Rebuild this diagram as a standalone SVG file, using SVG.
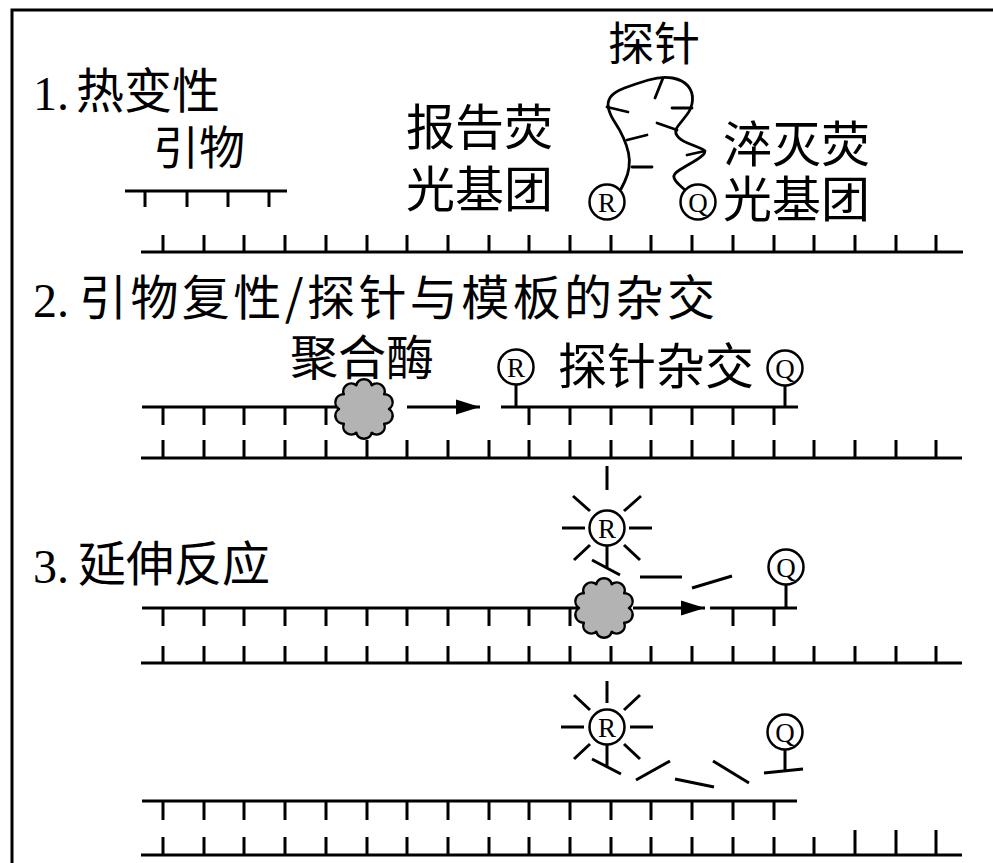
<svg xmlns="http://www.w3.org/2000/svg" xmlns:xlink="http://www.w3.org/1999/xlink" width="993" height="863" viewBox="0 0 993 863">
  <style>
    .s { stroke: #000; stroke-width: 3; fill: none; }
    .thin { stroke: #000; stroke-width: 2.8; fill: none; stroke-linecap: round; stroke-linejoin: round; }
    .cn { font-family: "Noto Sans CJK SC", sans-serif; fill: #000; }
    .num { font-family: "Liberation Serif", serif; fill: #000; }
    .ring { fill: #fff; stroke: #000; stroke-width: 2.5; }
    .mark { font-family: "Liberation Serif", serif; font-size: 27px; text-anchor: middle; fill: #000; }
    .enz { fill: #b3b3b3; stroke: #000; stroke-width: 2.5; stroke-linejoin: round; }
  </style>
  <defs>
    <!-- reporter dye (R) and quencher (Q) markers, centred on 0,0 -->
    <g id="rMark">
      <circle class="ring" cx="0" cy="0" r="17.5"/>
      <text class="mark" x="0" y="9.5">R</text>
    </g>
    <g id="qMark">
      <circle class="ring" cx="0" cy="0" r="17.5"/>
      <text class="mark" x="0" y="9.5" font-size="30">Q</text>
    </g>
    <!-- light rays round a freed reporter -->
    <path id="burst" class="s" d="M0,-46V-24 M-46,0H-23 M23,0H46 M-33,-32L-17,-17 M17,-17L33,-32 M-33,32L-17,17 M17,17L33,32"/>
    <!-- polymerase blob -->
    <path id="enzyme" class="enz" d="M25,0 A8,8 0 0 1 20.2,14.7 A8,8 0 0 1 7.7,23.8 A8,8 0 0 1 -7.7,23.8 A8,8 0 0 1 -20.2,14.7 A8,8 0 0 1 -25,0 A8,8 0 0 1 -20.2,-14.7 A8,8 0 0 1 -7.7,-23.8 A8,8 0 0 1 7.7,-23.8 A8,8 0 0 1 20.2,-14.7 A8,8 0 0 1 25,0 Z"/>
    <marker id="head" viewBox="0 0 24 16" refX="24" refY="8" markerWidth="24" markerHeight="16" markerUnits="userSpaceOnUse" orient="auto">
      <path d="M0,0.5 L24,8 L0,15.5 Z" fill="#000"/>
    </marker>
  </defs>

  <rect x="0" y="0" width="993" height="863" fill="#fff"/>

  <!-- outer frame (top and left edges) -->
  <g id="frame">
    <path class="s" d="M12,863 V10 H993"/>
  </g>

  <!-- ===== 1. denaturation ===== -->
  <g id="stage1-title">
    <text class="num" x="33" y="110" font-size="48">1.</text>
    <text class="cn" x="76" y="108" font-size="48">热变性</text>
  </g>
  <g id="primer1">
    <text class="cn" x="153" y="164" font-size="46">引物</text>
    <path class="s" d="M125,191H287 M145,191V207 M187,191V207 M228,191V207 M269,191V207"/>
  </g>
  <g id="template1">
    <path class="s" d="M141,252H963 M163,235V252 M204,235V252 M244,235V252 M285,235V252 M326,235V252 M367,235V252 M407,235V252 M448,235V252 M489,235V252 M529,235V252 M570,235V252 M611,235V252 M651,235V252 M692,235V252 M733,235V252 M774,235V252 M814,235V252 M855,235V252 M896,235V252 M936,235V252"/>
  </g>
  <g id="probe1">
    <text class="cn" x="608" y="60" font-size="46">探针</text>
    <path class="thin" d="M621,189 L624.5,182 Q628,175 629,167.5 Q630,160 628.5,153 Q627,146 623.5,138 Q620,130 615,122.5 Q610,115 608.5,108.5 Q607,102 610.5,97 Q614,92 624.5,88 Q635,84 648.5,80 Q662,76 672.5,78 Q683,80 688,86 Q693,92 692.5,100 Q692,108 687,114.5 Q682,121 678,126 Q674,131 677,135.5 Q680,140 687.5,143 Q695,146 701,148.5 Q707,151 703.5,154.5 Q700,158 693,162 Q686,166 679.5,170 Q673,174 674,177.5 Q675,181 680,185.5 L685,190"/>
    <path class="thin" d="M663,78L655,98 M607,107L628,112 M672,108L692,108 M657,123L677,130 M627,140L647,135 M687,155L705,151 M632,167L652,167"/>
    <use xlink:href="#rMark" x="607" y="202"/>
    <use xlink:href="#qMark" x="698" y="202"/>
  </g>
  <g id="reporter-label">
    <text class="cn" font-size="49"><tspan x="406" y="145">报告荧</tspan><tspan x="406" y="207">光基团</tspan></text>
  </g>
  <g id="quencher-label">
    <text class="cn" font-size="49"><tspan x="723" y="162">淬灭荧</tspan><tspan x="723" y="217">光基团</tspan></text>
  </g>

  <!-- ===== 2. annealing / probe hybridisation ===== -->
  <g id="stage2-title">
    <text class="num" x="33" y="317" font-size="48">2.</text>
    <text class="cn" x="79" y="315" font-size="48" textLength="636" lengthAdjust="spacing">引物复性/探针与模板的杂交</text>
  </g>
  <g id="primer2">
    <path class="s" d="M142,407H345 M163,407V425 M204,407V425 M244,407V425 M285,407V425 M326,407V425"/>
  </g>
  <g id="template2">
    <path class="s" d="M141,458H962 M163,440V458 M204,440V458 M244,440V458 M285,440V458 M326,440V458 M367,440V458 M407,440V458 M448,440V458 M489,440V458 M529,440V458 M570,440V458 M611,440V458 M651,440V458 M692,440V458 M733,440V458 M774,440V458 M814,440V458 M855,440V458 M896,440V458 M936,440V458"/>
  </g>
  <g id="polymerase2">
    <text class="cn" x="290" y="375" font-size="48">聚合酶</text>
    <use xlink:href="#enzyme" x="364" y="409"/>
  </g>
  <g id="probe2">
    <text class="cn" x="558" y="384" font-size="49">探针杂交</text>
    <path class="s" d="M501,407H798 M516,407V385 M785,407V385 M529,407V425 M570,407V425 M611,407V425 M651,407V425 M692,407V425 M733,407V425 M774,407V425"/>
    <use xlink:href="#rMark" x="516" y="367"/>
    <use xlink:href="#qMark" x="785" y="368"/>
  </g>

  <!-- ===== 3. extension ===== -->
  <g id="stage3-title">
    <text class="num" x="33" y="583" font-size="48">3.</text>
    <text class="cn" x="78" y="581" font-size="48">延伸反应</text>
  </g>
  <g id="primer3a">
    <path class="s" d="M142,608H600 M163,608V626 M204,608V626 M244,608V626 M285,608V626 M326,608V626 M367,608V626 M407,608V626 M448,608V626 M489,608V626 M529,608V626 M570,608V626"/>
  </g>
  <g id="template3a">
    <path class="s" d="M141,663H962 M163,646V663 M204,646V663 M244,646V663 M285,646V663 M326,646V663 M367,646V663 M407,646V663 M448,646V663 M489,646V663 M529,646V663 M570,646V663 M611,646V663 M651,646V663 M692,646V663 M733,646V663 M774,646V663 M814,646V663 M855,646V663 M896,646V663 M936,646V663"/>
  </g>
  <g id="polymerase3a">
    <use xlink:href="#enzyme" x="604" y="608"/>
  </g>
  <g id="probe3a">
    <path class="s" d="M710,608H797 M733,608V626 M774,608V626 M786,608V585"/>
    <use xlink:href="#qMark" x="786" y="567"/>
    <path class="s" d="M607,466V490 M562,528H585 M629,528H652 M573,496L590,511 M624,511L641,496 M574,560L590,545 M624,545L640,560"/>
    <path class="s" d="M607,545V567 M592,560L620,575 M640,577H682 M692,588L732,576"/>
    <use xlink:href="#rMark" x="607" y="528"/>
  </g>

  <g id="primer3b">
    <path class="s" d="M142,801H797 M163,801V820 M204,801V820 M244,801V820 M285,801V820 M326,801V820 M367,801V820 M407,801V820 M448,801V820 M489,801V820 M529,801V820 M570,801V820 M611,801V820 M651,801V820 M692,801V820 M733,801V820 M774,801V820"/>
  </g>
  <g id="template3b">
    <path class="s" d="M141,855H962 M163,837V855 M204,837V855 M244,837V855 M285,837V855 M326,837V855 M367,837V855 M407,837V855 M448,837V855 M489,837V855 M529,837V855 M570,837V855 M611,837V855 M651,837V855 M692,837V855 M733,837V855 M774,837V855 M814,837V855 M855,830V855 M896,830V855 M936,830V855"/>
  </g>
  <g id="probe3b">
    <use xlink:href="#burst" x="607" y="727"/>
    <path class="s" d="M607,745V767 M592,759L621,774 M636,780L670,761 M675,779L714,787 M713,761L749,783 M785,750V771 M764,773L803,769"/>
    <use xlink:href="#rMark" x="607" y="727"/>
    <use xlink:href="#qMark" x="785" y="732"/>
  </g>

  <!-- direction of synthesis -->
  <g id="connectors">
    <path class="s" d="M407,407H480" marker-end="url(#head)"/>
    <path class="s" d="M633,608H705" marker-end="url(#head)"/>
  </g>
</svg>
